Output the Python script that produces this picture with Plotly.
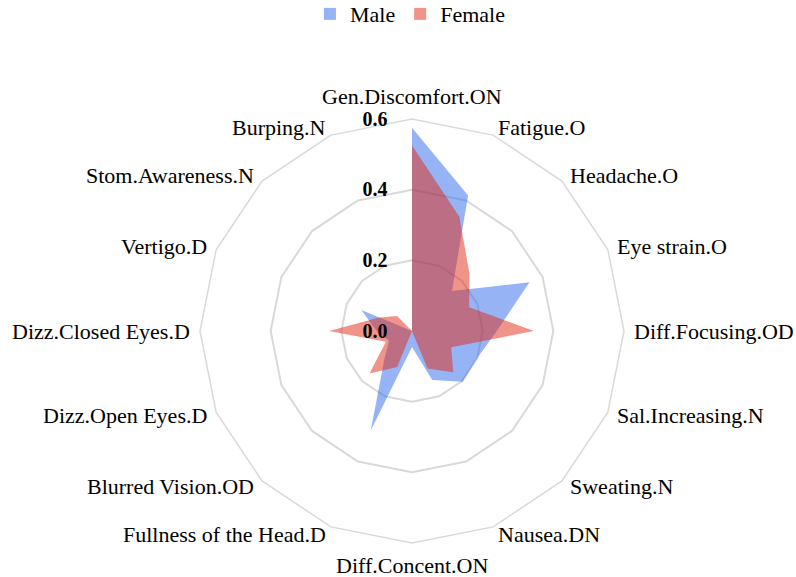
import math
import plotly.graph_objects as go

# Symptom categories (clockwise from the top)
categories = [
    "Gen.Discomfort.ON", "Fatigue.O", "Headache.O", "Eye strain.O",
    "Diff.Focusing.OD", "Sal.Increasing.N", "Sweating.N", "Nausea.DN",
    "Diff.Concent.ON", "Fullness of the Head.D", "Blurred Vision.OD",
    "Dizz.Open Eyes.D", "Dizz.Closed Eyes.D", "Vertigo.D",
    "Stom.Awareness.N", "Burping.N",
]

male = [0.575, 0.415, 0.16, 0.36, 0.24, 0.20, 0.203, 0.15,
        0.045, 0.305, 0.11, 0.07, 0.10, 0.155, 0.0, 0.0]
female = [0.525, 0.35, 0.23, 0.175, 0.345, 0.12, 0.165, 0.115,
          0.0, 0.11, 0.17, 0.08, 0.235, 0.10, 0.06, 0.0]

radial_ticks = [0.0, 0.2, 0.4, 0.6]
radial_ticktext = ["0.0", "0.2", "0.4", "0.6"]

series = [("Male", male, "rgba(45,105,235,0.5)"),
          ("Female", female, "rgba(225,40,20,0.5)")]

serif = "Liberation Serif, Times New Roman, serif"

# page size and radar geometry (pixels)
W, H = 796, 577
CX, CY, R = 412, 331, 212
LABEL_GAP = 8


def closed(values):
    return values + values[:1]


fig = go.Figure()
for name, values, color in series:
    # filled area of the series
    fig.add_trace(go.Scatterpolar(
        r=closed(values), theta=closed(categories), name=name,
        mode="none", fill="toself", fillcolor=color,
        showlegend=False, legendgroup=name,
    ))
for name, values, color in series:
    # square swatch for the legend
    fig.add_trace(go.Scatterpolar(
        r=[None], theta=[categories[0]], name=name,
        mode="markers", legendgroup=name,
        marker=dict(symbol="square", size=12, color=color),
    ))

# category labels placed just outside each outer vertex
annotations = []
n = len(categories)
for i, label in enumerate(categories):
    a = 2 * math.pi * i / n
    s, c = math.sin(a), math.cos(a)
    px = CX + (R + LABEL_GAP) * s
    py = CY - (R + LABEL_GAP) * c
    if abs(s) < 1e-6:
        xanchor = "center"
        yanchor = "bottom" if c > 0 else "top"
    else:
        xanchor = "left" if s > 0 else "right"
        yanchor = "middle"
    annotations.append(dict(
        text=label, x=px / W, y=1 - py / H, xref="paper", yref="paper",
        xanchor=xanchor, yanchor=yanchor, showarrow=False,
        font=dict(family=serif, size=22, color="black"),
    ))

fig.update_layout(
    width=W, height=H,
    margin=dict(l=0, r=0, t=0, b=0, autoexpand=False),
    paper_bgcolor="white",
    font=dict(family=serif, color="black"),
    showlegend=True,
    legend=dict(
        orientation="h", x=0.515, xanchor="center", y=1.012, yanchor="top",
        font=dict(family=serif, size=22, color="black"),
        itemwidth=30, tracegroupgap=0,
    ),
    annotations=annotations,
    polar=dict(
        domain=dict(x=[(CX - R) / W, (CX + R) / W],
                    y=[1 - (CY + R) / H, 1 - (CY - R) / H]),
        bgcolor="white",
        gridshape="linear",
        radialaxis=dict(
            range=[0, 0.6],
            tickvals=radial_ticks,
            ticktext=radial_ticktext,
            angle=90,
            tickangle=90,
            side="counterclockwise",
            showline=False,
            ticks="outside", ticklen=17, tickcolor="rgba(0,0,0,0)",
            gridcolor="#d9d9d9", gridwidth=1.5,
            tickfont=dict(family=serif, size=20, color="black", weight="bold"),
        ),
        angularaxis=dict(
            direction="clockwise",
            rotation=90,
            showgrid=False,
            showline=True,
            linecolor="#d9d9d9", linewidth=1.5,
            ticks="",
            showticklabels=False,
        ),
    ),
)

fig.write_html("out.html")
